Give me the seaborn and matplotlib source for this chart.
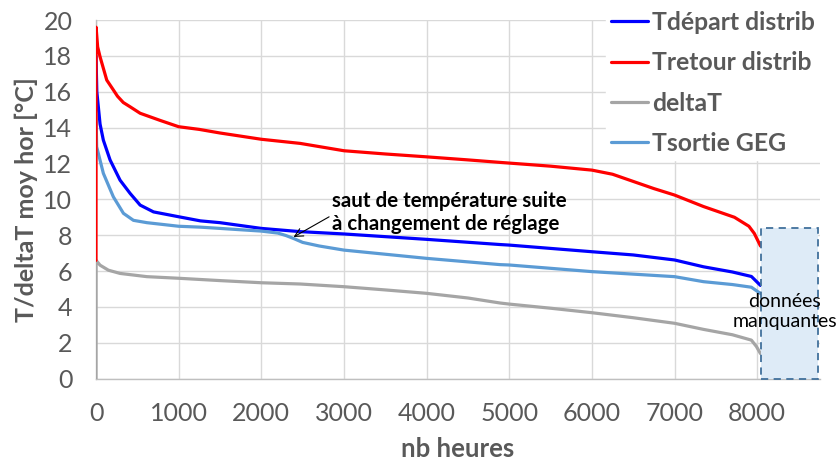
import matplotlib
matplotlib.use("Agg")
import matplotlib.pyplot as plt
import seaborn as sns
import pandas as pd
from matplotlib.patches import Rectangle
from matplotlib.lines import Line2D

# ---- data ----
hours_depart = [0, 10, 49, 89, 170, 291, 413, 534, 696, 1000, 1263, 1500, 2000, 2470, 3000,
                4000, 4890, 5000, 6000, 6500, 7000, 7350, 7700, 7930, 8040]
t_depart = [18.0, 16.0, 14.2, 13.3, 12.2, 11.07, 10.33, 9.68, 9.3, 9.03, 8.8, 8.7, 8.38, 8.2, 8.07,
            7.77, 7.48, 7.45, 7.08, 6.9, 6.62, 6.24, 5.95, 5.7, 5.2]

hours_retour = [0, 1, 20, 49, 130, 210, 260, 330, 413, 534, 777, 1000, 1250, 1500, 2000, 2470, 3000,
                3500, 4000, 4500, 4890, 5500, 6000, 6250, 6500, 6750, 7000, 7350, 7725, 7900, 7965, 8040]
t_retour = [6.6, 19.6, 18.5, 17.95, 16.65, 16.1, 15.75, 15.4, 15.16, 14.8, 14.4, 14.05, 13.9, 13.7, 13.35, 13.12, 12.71,
            12.53, 12.37, 12.2, 12.06, 11.85, 11.63, 11.4, 11.0, 10.6, 10.24, 9.6, 9.0, 8.5, 8.1, 7.4]

hours_delta = [0, 1, 49, 150, 291, 615, 1000, 1500, 2000, 2470, 3000, 3500, 4000, 4500, 4890,
               5000, 5500, 6000, 6500, 7000, 7350, 7700, 7930, 7990, 8040]
delta_t = [0.0, 6.6, 6.33, 6.05, 5.87, 5.69, 5.6, 5.47, 5.35, 5.28, 5.13, 4.95, 4.76, 4.5, 4.22,
           4.16, 3.93, 3.68, 3.4, 3.09, 2.75, 2.45, 2.15, 1.8, 1.4]

hours_sortie = [0, 8, 89, 210, 332, 453, 615, 1000, 1263, 1500, 2000, 2200, 2300, 2400, 2500, 2700, 3000,
                4000, 4890, 5000, 6000, 7000, 7350, 7700, 7930, 8040]
t_sortie = [14.8, 12.93, 11.45, 10.14, 9.22, 8.83, 8.7, 8.5, 8.45, 8.38, 8.23, 8.12, 7.98, 7.8, 7.6, 7.4, 7.17,
            6.71, 6.36, 6.34, 5.97, 5.69, 5.41, 5.25, 5.1, 4.75]

series_names = ["Tdépart distrib", "Tretour distrib", "deltaT", "Tsortie GEG"]
series_colors = ["#0000FF", "#FF0000", "#A5A5A5", "#5B9BD5"]

missing_start, missing_end, missing_top = 8048, 8740, 8.4
missing_label_x = 8330
annot_xy = (2390, 7.9)
annot_text_xy = (2860, 9.25)

# ---- figure ----
sns.set_theme(style="white")
plt.rcParams['font.family'] = ['Lato', 'DejaVu Sans']

fig = plt.figure(figsize=(8.39, 4.61), dpi=100)
ax = fig.add_axes([96 / 839, 1 - 378.7 / 461, (820 - 96) / 839, (378.7 - 20) / 461])

data = {
    "Tdépart distrib": (hours_depart, t_depart),
    "Tretour distrib": (hours_retour, t_retour),
    "deltaT": (hours_delta, delta_t),
    "Tsortie GEG": (hours_sortie, t_sortie),
}
color_map = dict(zip(series_names, series_colors))
draw_order = ["Tdépart distrib", "Tsortie GEG", "deltaT", "Tretour distrib"]
for name in draw_order:
    hx, hy = data[name]
    df = pd.DataFrame({"h": hx, "v": hy})
    sns.lineplot(data=df, x="h", y="v", ax=ax, color=color_map[name], lw=2.3,
                 estimator=None, sort=False, legend=False, zorder=3)

ax.set_xlim(0, 8760)
ax.set_ylim(0, 20)
ax.set_xticks(range(0, 8001, 1000))
ax.set_yticks(range(0, 21, 2))
ax.grid(True, color="#D9D9D9", lw=1.0)
ax.set_axisbelow(True)
for s in ["top", "right"]:
    ax.spines[s].set_visible(False)
for s in ["left", "bottom"]:
    ax.spines[s].set_color("#BFBFBF")
    ax.spines[s].set_linewidth(1.0)
ax.tick_params(axis="both", length=0, labelsize=18, labelcolor="#595959")
ax.tick_params(axis="y", pad=17)
ax.tick_params(axis="x", pad=17)

ax.set_xlabel("nb heures", fontsize=18.5, fontweight="bold", color="#595959")
ax.set_ylabel("T/deltaT moy hor [°C]", fontsize=18, fontweight="bold", color="#595959")
ax.xaxis.label.set_va("center")
ax.xaxis.set_label_coords(0.5, -0.195)
ax.yaxis.set_label_coords(-0.08, 0.5)

# missing-data box
ax.add_patch(Rectangle((missing_start, 0), missing_end - missing_start, missing_top,
                       facecolor="#DEEBF7", edgecolor="#41719C", lw=1.3, ls=(0, (4, 3)),
                       zorder=4, clip_on=False))
ax.text(missing_label_x, 3.75, "données\nmanquantes", ha="center", va="center",
        fontsize=14, color="black", linespacing=1.25, zorder=5)

# annotation
ax.annotate("saut de température suite\nà changement de réglage", xy=annot_xy, xytext=annot_text_xy,
            fontsize=14.8, fontweight="bold", color="black", ha="left", va="center", linespacing=1.2,
            arrowprops=dict(arrowstyle="->", color="black", lw=0.8, shrinkA=0, shrinkB=0,
                            relpos=(0, 0.45)), zorder=6)

handles = [Line2D([0], [0], color=c, lw=2.3) for c in series_colors]
leg = fig.legend(handles, series_names, loc="upper right", bbox_to_anchor=(820 / 839, 1 - 6 / 461),
                 frameon=True, fontsize=17.8, handlelength=1.5, handletextpad=0.15, labelspacing=0.7,
                 borderaxespad=0, borderpad=0.2)
leg.get_frame().set_facecolor("white")
leg.get_frame().set_edgecolor("white")
leg.get_frame().set_alpha(1)
for t in leg.get_texts():
    t.set_color("#595959")
    t.set_fontweight("bold")

fig.savefig("out.png", dpi=100)
